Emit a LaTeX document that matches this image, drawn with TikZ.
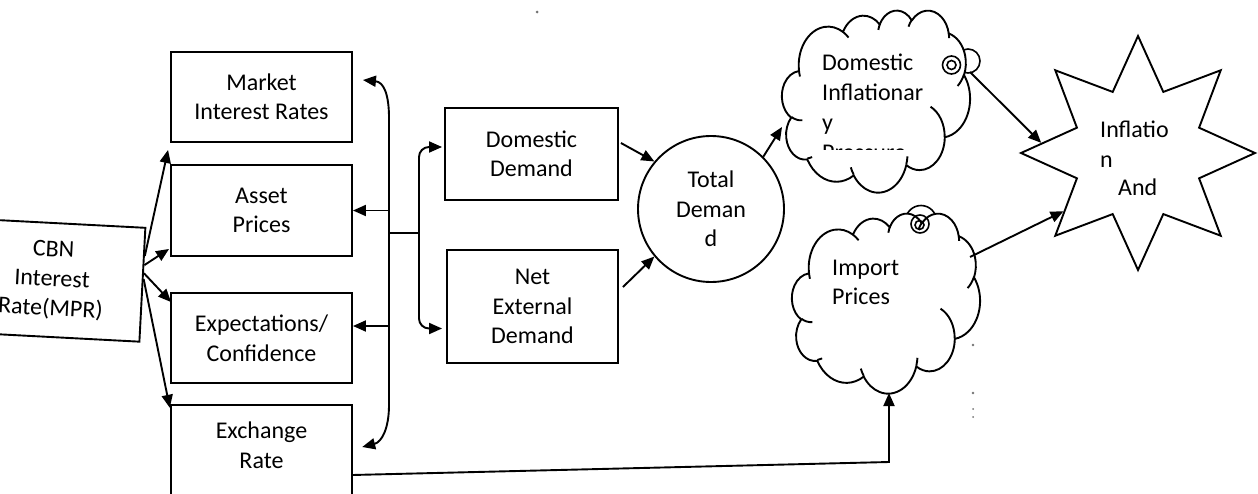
\documentclass[tikz,border=0pt]{standalone}
\usepackage{fontspec}
\setmainfont{Carlito}
\usetikzlibrary{arrows.meta,shapes.geometric,calc}

% one puff of a cloud outline: ellipse radii, start angle and sweep,
% the angles measured from the ellipse centre and turned into its parameter
\newcommand\puff[4]{arc[x radius=#1, y radius=#2,
  start angle={cvt(#3,#1,#2)}, end angle={cvt(#3+#4,#1,#2)}]}

% cloud outline on a 432 x 432 grid
\newcommand\cloudoutline{(39.00,143.70)
  \puff{67.53}{91.90}{-190.48748}{123.78053}
  \puff{53.33}{72.67}{-144.10238}{89.94523}
  \puff{43.65}{59.45}{-145.80792}{99.72302}
  \puff{48.57}{65.95}{-130.98607}{117.24173}
  \puff{53.33}{72.73}{-78.70888}{109.02692}
  \puff{67.75}{92.20}{-46.26725}{130.26900}
  \puff{57.85}{78.67}{0.62502}{114.03333}
  \puff{67.52}{92.15}{22.45160}{115.17255}
  \puff{77.20}{105.43}{66.24263}{75.71102}
  \puff{43.60}{59.18}{-274.94208}{146.73557}
  \puff{43.45}{59.45}{-246.82850}{152.51885} -- cycle}

% the inner folds of the cloud, same grid
\newcommand\cloudcreases{
  (46.93,261.77) \puff{43.45}{59.45}{86.742}{26.4295}
  (69.28,348.99) \puff{43.60}{59.18}{73.61047}{11.44747}
  (164.78,390.90) \puff{67.52}{92.15}{137.62415}{14.0811}
  (288.27,347.51) \puff{67.52}{92.15}{6.45327}{15.99835}
  (341.29,229.54) \puff{57.85}{78.67}{-70.29235}{70.91737}
  (417.98,153.54) \puff{53.33}{72.73}{30.31803}{27.7515}
  (383.24,54.26) \puff{48.57}{65.95}{-13.74433}{14.8589}
  (290.78,39.52) \puff{48.57}{65.95}{-149.18145}{18.19537}
  (221.41,47.20) \puff{43.65}{59.45}{-163.49427}{17.68715}
  (140.00,51.92) \puff{67.53}{91.90}{-66.70695}{12.31935}
  (41.27,157.89) \puff{67.53}{91.90}{157.65435}{11.85817}}

\begin{document}
\begin{tikzpicture}[x=1pt, y=-1pt,
  declare function={cvt(\ang,\rx,\ry)=\ang+mod(atan2(\rx*sin(\ang),\ry*cos(\ang))-\ang+540,360)-180;},
  txt/.style={font=\fontsize{24}{29.5}\selectfont},
  box/.style={txt, draw, line width=1.9pt, inner sep=0pt, align=center},
  con/.style={line width=1.9pt},
  arr/.style={con, -{Triangle[length=13pt,width=11pt]}},
  dbl/.style={con, {Triangle[length=13pt,width=11pt]}-{Triangle[length=13pt,width=11pt]}},
  cloudline/.style={line width=1.9pt, line join=round, fill=white},
  crease/.style={line width=1.9pt},
  ring/.style={line width=1.6pt},
  lbl/.style={txt, anchor=base west, inner sep=0pt},
  speck/.style={fill=black!55},
]
\useasboundingbox (0,0) rectangle (1258,493);

% ---- policy rate and the four channels
\node[box, minimum width=181pt, minimum height=114pt, rotate=-3] (cbn) at (52,280) {CBN\\Interest\\Rate(MPR)};
\node[box, minimum width=181pt, minimum height=90pt] (mkt) at (261.5,97) {Market\\Interest Rates};
\node[box, minimum width=181pt, minimum height=91pt] (asset) at (261.5,210.5) {Asset\\Prices};
\node[box, minimum width=181pt, minimum height=90pt] (expc) at (261.5,338) {Expectations/\\Confidence};
\node[txt, align=center, inner sep=0pt, minimum width=181pt, minimum height=80pt] (exch) at (261.5,445) {Exchange\\Rate};
\draw[con] ([yshift=-30pt]exch.south west) |- (exch.north east) -- ([yshift=-30pt]exch.south east);

% ---- demand side
\node[box, minimum width=173pt, minimum height=92pt] (dom) at (531.5,154) {Domestic\\Demand};
\node[box, minimum width=171pt, minimum height=113pt] (net) at (532.5,306.5) {Net\\External\\Demand};
\node[box, circle, minimum size=146pt] (tot) at (711,209) {Total\\Deman\\d};

% ---- inflation burst
\node[draw, line width=1.9pt, star, star points=8, star point ratio=1.77,
      minimum size=234pt, inner sep=0pt] (infl) at (1138,153) {};
\node[lbl] (s1) at (1100,137) {Inflatio};
\node[lbl] (s2) at (1100,167) {n};
\node[lbl] (s3) at (1118,195) {And};

% ---- domestic inflationary pressure cloud
\draw[ring, fill=white] (968,61) circle (12);
\begin{scope}[shift={(782,10)}, x=0.435185pt, y=-0.421296pt]
  \draw[cloudline] \cloudoutline;
  \draw[crease] \cloudcreases;
\end{scope}
\draw[ring] (951.5,65) circle (9) (951.5,65) circle (4.5);
\node[lbl] (d1) at (822,70) {Domestic};
\node[lbl] (d2) at (822,100) {Inflationar};
\node[lbl] (d3) at (822,130) {y};
\begin{scope}
  \clip (800,132) rectangle (960,149);
  \node[lbl] (d4) at (822,160) {Pressure};
\end{scope}

% ---- import prices cloud
\draw[ring, fill=white] (921,221) circle (15.5);
\begin{scope}[shift={(792,213)}, x=0.435185pt, y=-0.416667pt]
  \draw[cloudline] \cloudoutline;
  \draw[crease] \cloudcreases;
\end{scope}
\draw[ring] (920,224) circle (9) (919.5,225) circle (4.5);
\node[lbl] (i1) at (832,275) {Import};
\node[lbl] (i2) at (832,304) {Prices};

% ---- connection points
\coordinate (mktin) at ($(mkt.south west)+(-2,7)$);
\coordinate (assetin) at ($(asset.south west)+(-1,-8)$);
\coordinate (expcin) at ($(expc.north west)+(1,10)$);
\coordinate (exchin) at ($(exch.north west)+(-1,3)$);
\coordinate (mtip) at ($(mkt.east)+(10,-17)$);
\coordinate (xtip) at ($(exch.east)+(10,2)$);
\coordinate (brk) at (389,233);
\coordinate (fork) at (419,233);
\coordinate (expcside) at ($(expc.east)+(0,-12)$);
\coordinate (domin) at ($(dom.west)+(-2,-7)$);
\coordinate (netin) at ($(net.west)+(-4,22)$);
\coordinate (domout) at ($(dom.east)+(2,-11)$);
\coordinate (netout) at ($(net.east)+(4,-19.5)$);
\coordinate (c1in) at (782,127);
\coordinate (c1out) at (970,72);
\coordinate (c2out) at (970,257);
\coordinate (c2bot) at (889,393);
\coordinate (bend) at (889,462);
\coordinate (exchout) at ($(exch.east)+(0,30)$);

% ---- connectors
\draw[arr] ($(cbn.north east)!0.25!(cbn.south east)$) -- (mktin);
\draw[arr] ($(cbn.north east)!0.33!(cbn.south east)$) -- (assetin);
\draw[arr] ($(cbn.north east)!0.40!(cbn.south east)$) -- (expcin);
\draw[arr] ($(cbn.north east)!0.45!(cbn.south east)$) -- (exchin);

\draw[dbl] (mtip) .. controls (384,82) and (389,95) .. (389,118) -- (389,405)
           .. controls (389,428) and (382,442) .. (xtip);
\draw[arr] (asset.east -| brk) -- (asset.east);
\draw[arr] (expcside -| brk) -- (expcside);

\draw[con] (brk) -- (fork);
\draw[arr, rounded corners=10pt] (fork) |- (domin);
\draw[arr, rounded corners=10pt] (fork) |- (netin);

\draw[arr] (domout) -- (tot.140);
\draw[arr] (netout) -- (tot.220);
\draw[arr] (tot.45) -- (c1in);
\draw[arr] (c1out) -- (infl.174);
\draw[arr] (c2out) -- (infl.218);
\draw[arr] (exchout) -- (bend) -- (c2bot);

% ---- specks
\fill[speck] (537,12) circle (1.5);
\fill[speck] (973,345) circle (1.3) (973,393) circle (1.3) (973,409) circle (1) (973,417) circle (1);
\end{tikzpicture}
\end{document}
